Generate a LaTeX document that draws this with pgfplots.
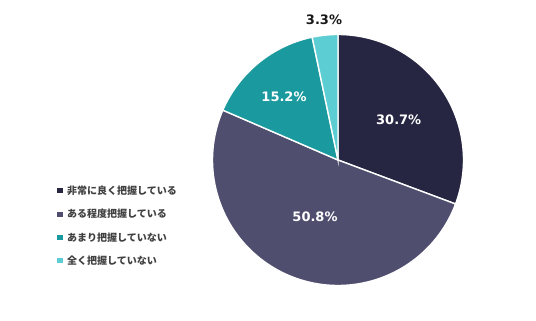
\documentclass[border=0pt]{standalone}
\usepackage{pgfplots}
\pgfplotsset{compat=1.18}
\usepackage{fontspec}
\setmainfont{DejaVu Sans}
\newfontfamily\jp{Noto Sans CJK JP}
\definecolor{c1}{HTML}{262643}
\definecolor{c2}{HTML}{4F4E6E}
\definecolor{c3}{HTML}{1A9A9E}
\definecolor{c4}{HTML}{5BCDD3}
\definecolor{lg}{HTML}{404040}
\begin{document}
\begin{tikzpicture}
% values (percent)
\def\vA{30.7}\def\vB{50.8}\def\vC{15.2}\def\vD{3.3}
\pgfmathsetmacro{\aA}{90}
\pgfmathsetmacro{\aB}{\aA-\vA*3.6}
\pgfmathsetmacro{\aC}{\aB-\vB*3.6}
\pgfmathsetmacro{\aD}{\aC-\vC*3.6}
\pgfmathsetmacro{\aE}{\aD-\vD*3.6}
\begin{axis}[width=536bp,height=321bp,scale only axis,xmin=0,xmax=536,ymin=0,ymax=321,hide axis,clip=false]
\path[fill=white] (axis cs:0,0) rectangle (axis cs:536,321);
\addplot[fill=c1,draw=white,line width=1.4pt,domain=\aB:\aA,samples=90] ({338+125.5*cos(x)},{161+125.5*sin(x)}) -- (axis cs:338,161) -- cycle;
\addplot[fill=c2,draw=white,line width=1.4pt,domain=\aC:\aB,samples=120] ({338+125.5*cos(x)},{161+125.5*sin(x)}) -- (axis cs:338,161) -- cycle;
\addplot[fill=c3,draw=white,line width=1.4pt,domain=\aD:\aC,samples=60] ({338+125.5*cos(x)},{161+125.5*sin(x)}) -- (axis cs:338,161) -- cycle;
\addplot[fill=c4,draw=white,line width=1.4pt,domain=\aE:\aD,samples=20] ({338+125.5*cos(x)},{161+125.5*sin(x)}) -- (axis cs:338,161) -- cycle;
% labels
\node[font=\bfseries\fontsize{13bp}{15bp}\selectfont,text=white] at (axis cs:398.7,201) {30.7\%};
\node[font=\bfseries\fontsize{13bp}{15bp}\selectfont,text=white] at (axis cs:315,104.3) {50.8\%};
\node[font=\bfseries\fontsize{13bp}{15bp}\selectfont,text=white] at (axis cs:284,224.3) {15.2\%};
\node[font=\bfseries\fontsize{13bp}{15bp}\selectfont,text=black!90] at (axis cs:324,301.7) {3.3\%};
% legend
\addplot[only marks,mark=square*,mark size=2.2bp,c1] coordinates {(59.5,130.5)};
\addplot[only marks,mark=square*,mark size=2.2bp,c2] coordinates {(59.5,107)};
\addplot[only marks,mark=square*,mark size=2.2bp,c3] coordinates {(59.5,83.5)};
\addplot[only marks,mark=square*,mark size=2.2bp,c4] coordinates {(59.5,60.5)};
\node[anchor=west,inner sep=0pt,font=\jp\bfseries\fontsize{10bp}{12bp}\selectfont,text=lg] at (axis cs:67,130.5) {非常に良く把握している};
\node[anchor=west,inner sep=0pt,font=\jp\bfseries\fontsize{10bp}{12bp}\selectfont,text=lg] at (axis cs:67,107) {ある程度把握している};
\node[anchor=west,inner sep=0pt,font=\jp\bfseries\fontsize{10bp}{12bp}\selectfont,text=lg] at (axis cs:67,83.5) {あまり把握していない};
\node[anchor=west,inner sep=0pt,font=\jp\bfseries\fontsize{10bp}{12bp}\selectfont,text=lg] at (axis cs:67,60.5) {全く把握していない};
\end{axis}
\end{tikzpicture}
\end{document}
